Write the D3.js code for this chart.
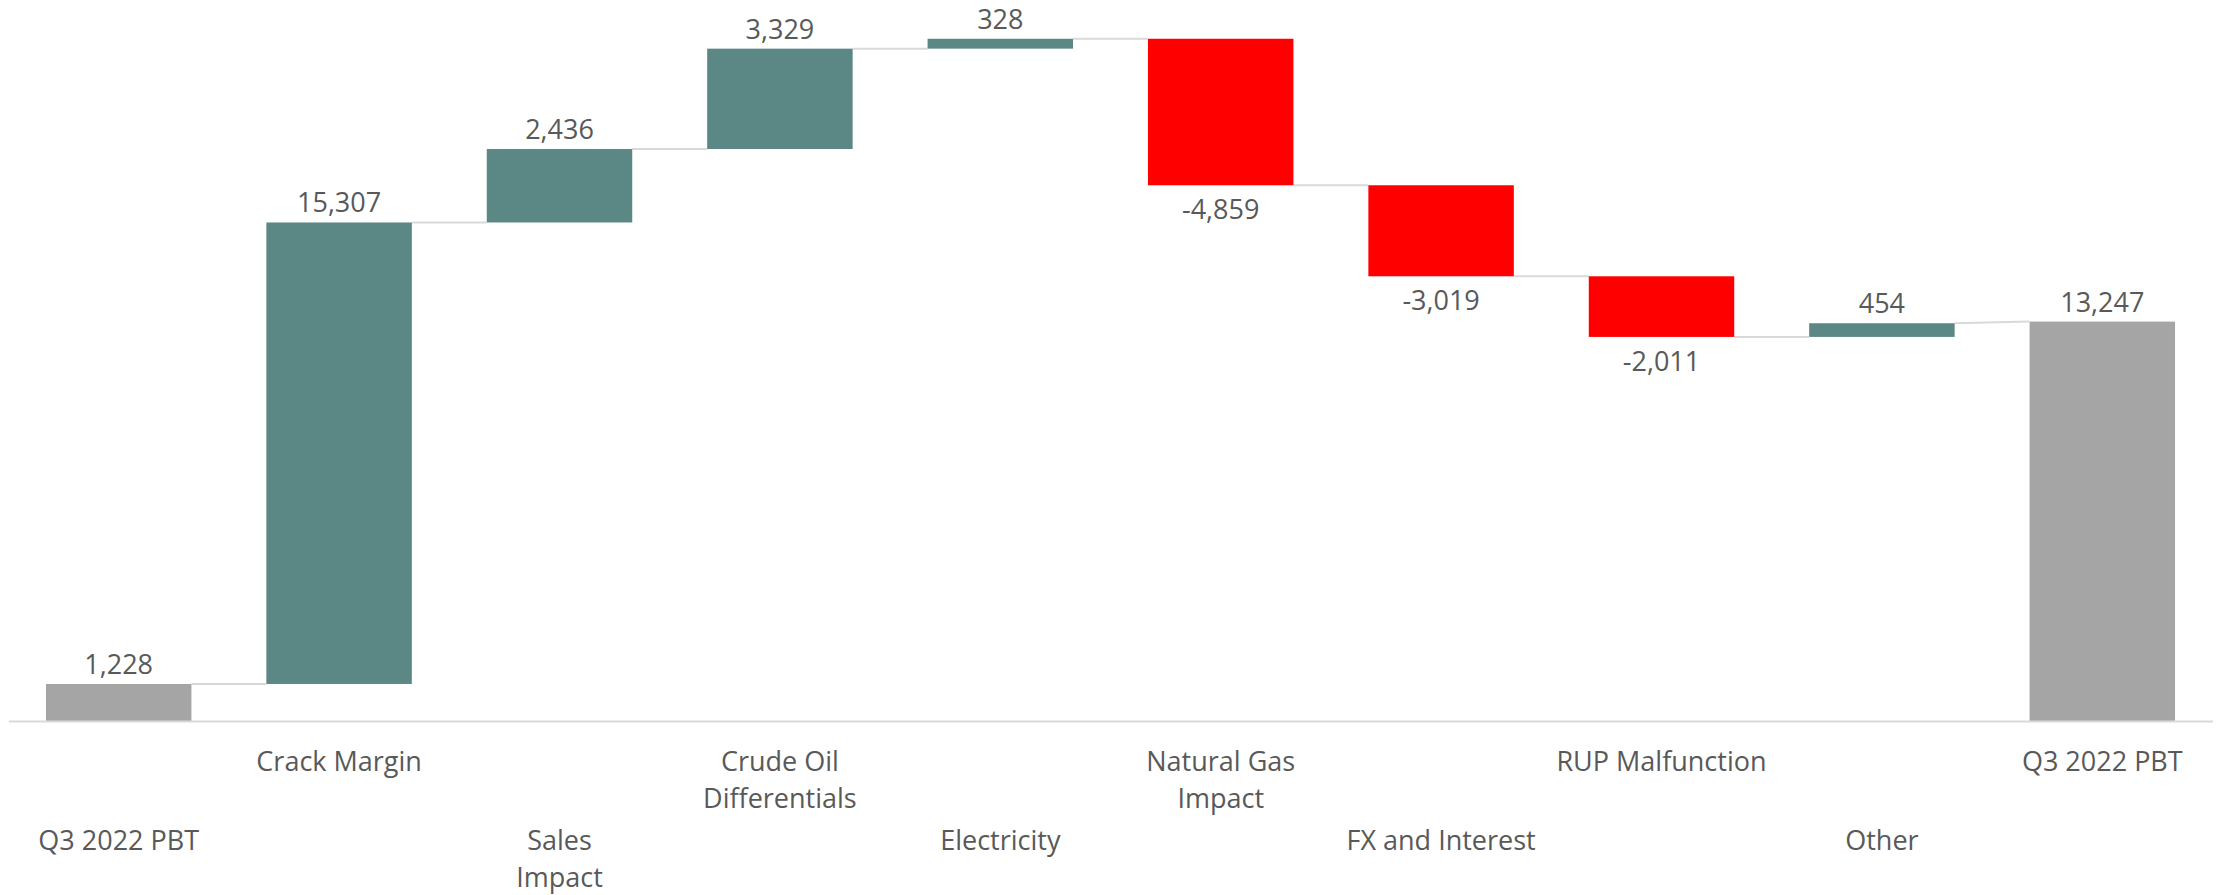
<!DOCTYPE html>
<html>
<head>
<meta charset="utf-8">
<script src="https://cdn.jsdelivr.net/npm/d3@7"></script>
<style>
  html, body { margin: 0; padding: 0; background: #ffffff; }
  svg { display: block; }
</style>
</head>
<body>
<svg id="chart" width="2216" height="895"></svg>
<script>
// ---- data ----
const categories = ["Q3 2022 PBT", "Crack Margin", "Sales\nImpact", "Crude Oil\nDifferentials", "Electricity",
                    "Natural Gas\nImpact", "FX and Interest", "RUP Malfunction", "Other", "Q3 2022 PBT"];
const values = [1228, 15307, 2436, 3329, 328, -4859, -3019, -2011, 454, 13247];
const isTotal = [true, false, false, false, false, false, false, false, false, true];
const yDomain = [0, 24000];

// ---- layout ----
const W = 2216, H = 895;
const axisY = 721;
const kPx = 0.03015;
const colors = { total: "#a5a5a5", up: "#5b8885", down: "#ff0000" };
const textColor = "#595959";
const fontFamily = "'Open Sans', 'Noto Sans', sans-serif";
const fontSize = 27;

const svg = d3.select("#chart");

const idx = categories.map((d, i) => i);
const x = d3.scaleBand().domain(idx).range([8.5, 2212.5]).paddingInner(0.34).paddingOuter(0.17);
const y = d3.scaleLinear().domain(yDomain).range([axisY, axisY - yDomain[1] * kPx]);

// compute waterfall segments
let running = 0;
const segs = values.map((v, i) => {
  let start, end;
  if (isTotal[i]) { start = 0; end = v; running = v; }
  else { start = running; end = running + v; running = end; }
  return { i, v, start, end, total: isTotal[i] };
});

const loc = d3.formatLocale({ decimal: ".", thousands: ",", grouping: [3], currency: ["$", ""], minus: "-" });
const fmt = loc.format(",");

// connectors
const conn = [];
for (let i = 0; i < segs.length - 1; i++) {
  const a = segs[i], b = segs[i + 1];
  conn.push({ x1: x(a.i) + x.bandwidth(), y1: y(a.end), x2: x(b.i), y2: y(b.total ? b.end : b.start) });
}
svg.append("g").selectAll("line").data(conn).join("line")
  .attr("x1", d => d.x1).attr("x2", d => d.x2)
  .attr("y1", d => d.y1).attr("y2", d => d.y2)
  .attr("stroke", "#d9d9d9").attr("stroke-width", 2);

// bars
svg.append("g").selectAll("rect").data(segs).join("rect")
  .attr("x", d => x(d.i))
  .attr("width", x.bandwidth())
  .attr("y", d => y(Math.max(d.start, d.end)))
  .attr("height", d => Math.abs(y(d.start) - y(d.end)))
  .attr("fill", d => d.total ? colors.total : (d.v >= 0 ? colors.up : colors.down));

// axis
const axis = d3.axisBottom(x).tickSize(0).tickSizeOuter(0).tickFormat(i => categories[i]);
const gx = svg.append("g").attr("transform", `translate(0,${axisY})`).call(axis);
gx.select(".domain").attr("stroke", "#d9d9d9").attr("stroke-width", 2);
gx.selectAll(".tick text").each(function(i) {
  const t = d3.select(this);
  const lines = categories[i].split("\n");
  const base = (i % 2 === 1) ? 50 : 129;
  t.text(null).attr("y", base).attr("dy", null)
    .attr("fill", textColor).style("font-family", fontFamily).style("font-size", fontSize + "px");
  lines.forEach((ln, k) => {
    t.append("tspan").attr("x", 0).attr("y", base + k * 37).text(ln);
  });
});

// value labels
svg.append("g").selectAll("text").data(segs).join("text")
  .attr("x", d => x(d.i) + x.bandwidth() / 2)
  .attr("y", d => (d.total || d.v >= 0) ? y(Math.max(d.start, d.end)) - 10 : y(Math.min(d.start, d.end)) + 34)
  .attr("text-anchor", "middle")
  .attr("fill", textColor)
  .style("font-family", fontFamily)
  .style("font-size", fontSize + "px")
  .text(d => fmt(d.v));
</script>
</body>
</html>
